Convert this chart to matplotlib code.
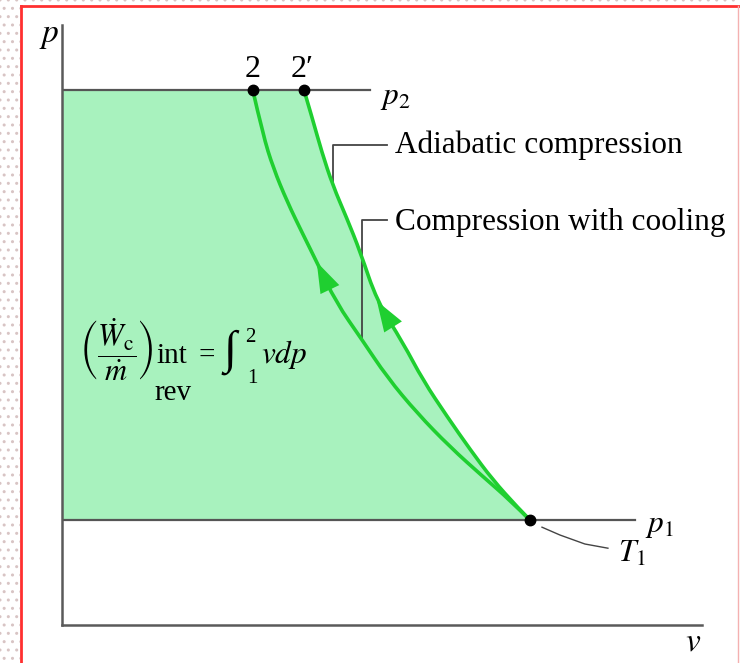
import matplotlib
matplotlib.use('Agg')
import matplotlib.pyplot as plt
from matplotlib.lines import Line2D
from matplotlib.patches import Rectangle, PathPatch
from matplotlib.path import Path

plt.rcParams['font.family'] = ['Liberation Serif', 'DejaVu Serif']
plt.rcParams['mathtext.fontset'] = 'stix'

# pressure levels and state volumes (arbitrary units)
p1 = 1.75
p2 = 8.92
v1 = 7.31
v2 = 2.98
v2s = 3.78

# compression with cooling, state 1 -> 2
v_cool = [7.31, 7.00, 6.58, 6.06, 5.55, 5.08, 4.69, 4.28, 3.98, 3.77, 3.52, 3.30, 3.14, 2.98]
p_cool = [1.75, 2.08, 2.47, 2.97, 3.53, 4.13, 4.75, 5.38, 6.05, 6.50, 7.05, 7.62, 8.17, 8.92]
# adiabatic compression, state 1 -> 2'
v_adia = [7.31, 7.11, 6.73, 6.38, 6.02, 5.64, 5.33, 4.92, 4.66, 4.45, 4.23, 4.06, 3.91, 3.78]
p_adia = [1.75, 1.97, 2.42, 2.92, 3.47, 4.08, 4.70, 5.40, 6.22, 6.78, 7.33, 7.88, 8.45, 8.92]

green = '#1fcf30'
fill = '#a8f2be'
grey = '#555555'


def smooth_path(xs, ys):
    # quadratic bezier pieces: the read points act as control points
    verts = [(xs[0], ys[0])]
    codes = [Path.MOVETO]
    for i in range(1, len(xs) - 1):
        mx = (xs[i] + xs[i + 1]) / 2
        my = (ys[i] + ys[i + 1]) / 2
        if i == len(xs) - 2:
            mx, my = xs[-1], ys[-1]
        verts += [(xs[i], ys[i]), (mx, my)]
        codes += [Path.CURVE3, Path.CURVE3]
    return Path(verts, codes)


fig = plt.figure(figsize=(7.4, 6.63), dpi=100)
W, H = 740, 663
ax = fig.add_axes([62 / W, (H - 625) / H, 640 / W, 600 / H])
ax.set_xlim(0, 10)
ax.set_ylim(0, 10)
for s in ['top', 'right']:
    ax.spines[s].set_visible(False)
for s in ['left', 'bottom']:
    ax.spines[s].set_color('#5a5a5a')
    ax.spines[s].set_linewidth(1.8)
ax.set_xticks([])
ax.set_yticks([])

# shaded area under the process
adia = smooth_path(v_adia, p_adia)
shade = Path([(0, p1)] + list(adia.vertices) + [(0, p2), (0, p1)],
             [Path.MOVETO] + [Path.LINETO] + list(adia.codes[1:]) + [Path.LINETO, Path.CLOSEPOLY])
ax.add_patch(PathPatch(shade, facecolor=fill, lw=0, zorder=1))

# isobars
ax.plot([0, 4.81], [p2, p2], color=grey, lw=1.6, zorder=2)
ax.plot([0, 8.95], [p1, p1], color=grey, lw=1.6, zorder=2)

# process curves
ax.add_patch(PathPatch(smooth_path(v_cool, p_cool), fill=False, edgecolor=green, lw=2.6, zorder=3))
ax.add_patch(PathPatch(adia, fill=False, edgecolor=green, lw=2.6, zorder=3))

arrow = dict(arrowstyle='-|>,head_length=2.2,head_width=0.75', color=green,
             lw=0, mutation_scale=10, shrinkA=0, shrinkB=0)
ax.annotate('', xy=(v_cool[8], p_cool[8]), xytext=(v_cool[7], p_cool[7]), arrowprops=arrow, zorder=4)
ax.annotate('', xy=(v_adia[7], p_adia[7]), xytext=(v_adia[6], p_adia[6]), arrowprops=arrow, zorder=4)

# states
ax.plot([v2, v2s, v1], [p2, p2, p1], 'o', color='black', ms=7.5, zorder=5)

fs = 22.5
ax.text(-0.20, 9.72, '$p$', fontsize=24, ha='center', va='baseline', clip_on=False)
ax.text(9.86, -0.42, '$v$', fontsize=24, ha='center', va='baseline', clip_on=False)
ax.text(v2, 9.13, '2', fontsize=23, ha='center', va='baseline')
ax.text(v2s - 0.03, 9.13, '2\u2032', fontsize=23, ha='center', va='baseline')
ax.text(4.97, 8.68, '$p_2$', fontsize=fs, ha='left', va='baseline')
ax.text(9.11, 1.55, '$p_1$', fontsize=fs, ha='left', va='baseline', clip_on=False)
ax.text(8.69, 1.05, '$T_1$', fontsize=fs, ha='left', va='baseline', clip_on=False)

# labels with leader lines
ax.plot([4.23, 4.23, 5.08], [7.33, 8.0, 8.0], color='#444444', lw=1.3, zorder=2)
ax.text(5.20, 7.87, 'Adiabatic compression', fontsize=fs, ha='left', va='baseline')
ax.plot([4.69, 4.69, 5.08], [4.75, 6.75, 6.75], color='#444444', lw=1.3, zorder=2)
ax.text(5.20, 6.58, 'Compression with cooling', fontsize=fs, ha='left', va='baseline')
ax.plot([7.50, 7.78, 8.17, 8.53], [1.63, 1.50, 1.35, 1.28], color='#444444', lw=1.0)

# work expression
ax.text(0.85, 4.58, r'$\left(\dfrac{\dot{W}_{\mathrm{c}}}{\dot{m}}\right)$', fontsize=22,
        ha='center', va='center')
ax.text(1.48, 4.37, 'int', fontsize=21, ha='left', va='baseline')
ax.text(1.45, 3.75, 'rev', fontsize=21, ha='left', va='baseline')
ax.text(2.13, 4.37, '=', fontsize=21, ha='left', va='baseline')
ax.text(2.52, 4.55, '\u222b', fontsize=34, ha='left', va='center')
ax.text(2.86, 4.72, '2', fontsize=15, ha='left', va='baseline')
ax.text(2.89, 4.03, '1', fontsize=15, ha='left', va='baseline')
ax.text(3.11, 4.37, r'$vdp$', fontsize=fs, ha='left', va='baseline')

# page frame of the screenshot
fig.add_artist(Rectangle((0, 0), 20 / W, 1, transform=fig.transFigure,
                         facecolor='white', edgecolor='#d8c4c4', hatch='..', lw=0))
fig.add_artist(Rectangle((0, (H - 5) / H), 1, 5 / H, transform=fig.transFigure,
                         facecolor='white', edgecolor='#d8c4c4', hatch='..', lw=0))
fig.add_artist(Line2D([21 / W, 21 / W], [0, (H - 6) / H], transform=fig.transFigure, color='#ff3030', lw=2))
fig.add_artist(Line2D([21 / W, 1], [(H - 6) / H, (H - 6) / H], transform=fig.transFigure, color='#ff3030', lw=2))
fig.add_artist(Line2D([738 / W, 738 / W], [0, (H - 6) / H], transform=fig.transFigure, color='#f4b0b0', lw=1))

fig.savefig('out.png', dpi=100)
